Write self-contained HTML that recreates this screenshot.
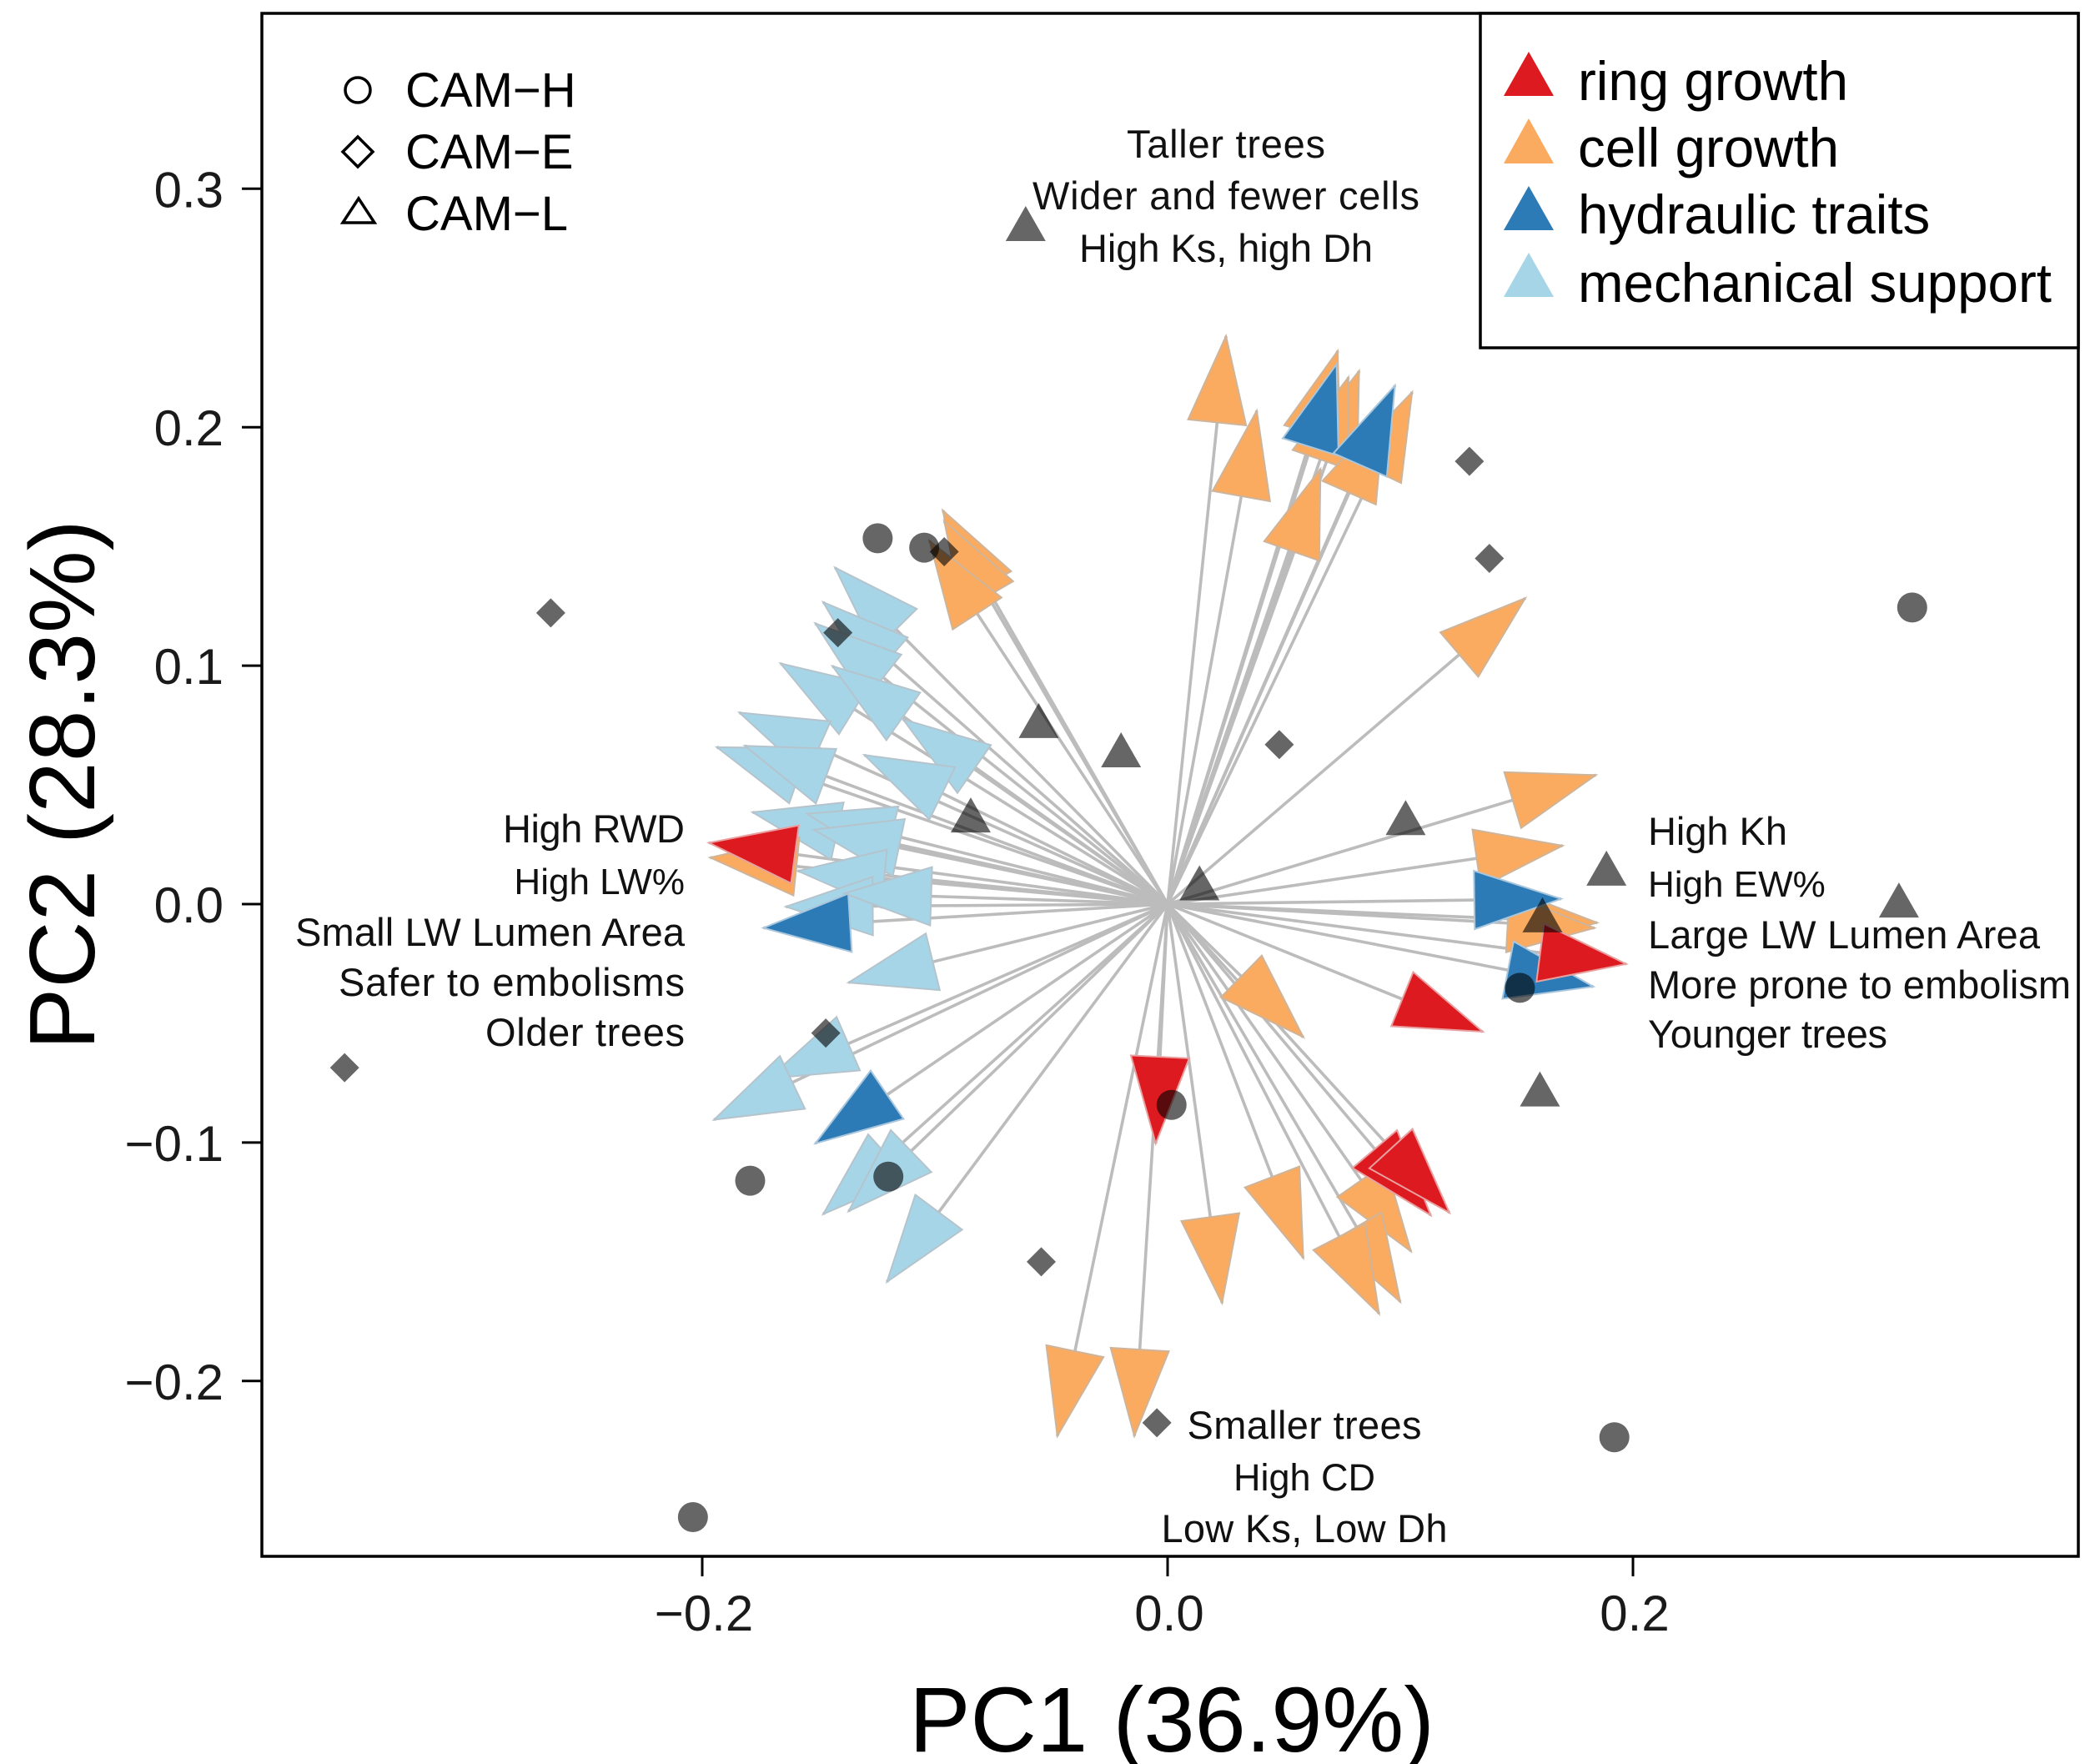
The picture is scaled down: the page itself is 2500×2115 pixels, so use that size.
<!DOCTYPE html>
<html lang="en">
<head>
<meta charset="utf-8">
<title>PCA biplot</title>
<style>
html,body{margin:0;padding:0;background:#fff;width:2500px;height:2115px;overflow:hidden}
svg{display:block}
text{font-family:"Liberation Sans",Arial,sans-serif;fill:#000}
.note{font-size:47px;fill:#111}
.tick{font-size:60px;fill:#1a1a1a}
</style>
</head>
<body>
<svg id="chart" width="2500" height="2115" viewBox="0 0 2500 2115" xmlns="http://www.w3.org/2000/svg">
  <rect x="0" y="0" width="2500" height="2115" fill="#ffffff"/>
  <g id="arrow-lines"></g>
  <g id="arrow-heads"></g>
  <g id="points"></g>

  <rect x="314" y="16" width="2178" height="1850" fill="none" stroke="#000" stroke-width="3.5"/>
  <g id="ticks"></g>

  <text x="1405" y="2100" text-anchor="middle" font-size="110">PC1 (36.9%)</text>
  <text transform="translate(113,941) rotate(-90)" text-anchor="middle" font-size="111">PC2 (28.3%)</text>

  <g>
    <circle cx="429" cy="108" r="15" fill="none" stroke="#000" stroke-width="3.5"/>
    <text x="486" y="128" font-size="58" fill="#222">CAM−H</text>
    <polygon points="429,164 447,182 429,200 411,182" fill="none" stroke="#000" stroke-width="3.5"/>
    <text x="486" y="202" font-size="58" fill="#222">CAM−E</text>
    <polygon points="430,238 449,267 411,267" fill="none" stroke="#000" stroke-width="3.5"/>
    <text x="486" y="276" font-size="58" fill="#222">CAM−L</text>
  </g>

  <g>
    <rect x="1775" y="16" width="717" height="401" fill="#fff" stroke="#000" stroke-width="3.5"/>
    <polygon points="1833,62 1863,115 1803,115" fill="#dc1a1f"/>
    <text x="1892" y="120" font-size="65.5">ring growth</text>
    <polygon points="1833,142 1863,196 1803,196" fill="#fbab60"/>
    <text x="1892" y="200" font-size="65.5">cell growth</text>
    <polygon points="1833,223 1863,276 1803,276" fill="#2c7bb6"/>
    <text x="1892" y="280" font-size="65.5">hydraulic traits</text>
    <polygon points="1833,303 1863,356 1803,356" fill="#a6d5e8"/>
    <text x="1892" y="362" font-size="65.5">mechanical support</text>
  </g>

  <g text-anchor="middle">
    <text class="note" x="1470" y="189" textLength="238">Taller trees</text>
    <text class="note" x="1470" y="251" textLength="464">Wider and fewer cells</text>
    <text class="note" x="1470" y="314" textLength="352">High Ks, high Dh</text>
  </g>
  <g text-anchor="end">
    <text class="note" x="821" y="1010" textLength="218">High RWD</text>
    <text class="note" x="821" y="1072" style="font-size:44px">High LW%</text>
    <text class="note" x="821" y="1134" textLength="467">Small LW Lumen Area</text>
    <text class="note" x="821" y="1194" textLength="415">Safer to embolisms</text>
    <text class="note" x="821" y="1254" textLength="239">Older trees</text>
  </g>
  <g>
    <text class="note" x="1976" y="1013" textLength="167">High Kh</text>
    <text class="note" x="1976" y="1075" style="font-size:44px">High EW%</text>
    <text class="note" x="1976" y="1137" textLength="470">Large LW Lumen Area</text>
    <text class="note" x="1976" y="1197" textLength="507">More prone to embolism</text>
    <text class="note" x="1976" y="1256" textLength="287">Younger trees</text>
  </g>
  <g text-anchor="middle">
    <text class="note" x="1564" y="1725" textLength="281">Smaller trees</text>
    <text class="note" x="1564" y="1787" style="font-size:45px">High CD</text>
    <text class="note" x="1564" y="1849" textLength="343">Low Ks, Low Dh</text>
  </g>
</svg>
<script>
// Axis ticks
const xTicks = [-0.2, 0.0, 0.2];
const yTicks = [-0.2, -0.1, 0.0, 0.1, 0.2, 0.3];

// Trait loadings (PC1, PC2)
const mechanicalX = [-0.1429,-0.1480,-0.1514,-0.1663,-0.1440,-0.1840,-0.1937,-0.1817,-0.1137,-0.1303,-0.1783,-0.1549,-0.1520,-0.1589,-0.1640,-0.1389,-0.1371,-0.1714,-0.1949,-0.1480,-0.1371,-0.1206];
const mechanicalY = [0.1411,0.1266,0.1177,0.1009,0.0998,0.0803,0.0658,0.0664,0.0775,0.0625,0.0385,0.0379,0.0312,0.0139,-0.0011,0.0045,-0.0329,-0.0731,-0.0904,-0.1300,-0.1288,-0.1584];
const cellX = [0.0251,0.0383,0.0731,0.0823,0.0777,0.1051,0.0931,0.0657,0.1537,0.1840,0.1697,0.1846,0.1834,0.0583,0.0234,0.0583,0.1046,0.1000,0.0909,-0.0474,-0.0143,-0.0966,-0.0960,-0.1023,-0.1966];
const cellY = [0.2382,0.2069,0.2320,0.2236,0.2209,0.2147,0.2058,0.1824,0.1283,0.0541,0.0245,-0.0078,-0.0100,-0.0558,-0.1673,-0.1484,-0.1456,-0.1668,-0.1718,-0.2231,-0.2231,0.1651,0.1606,0.1523,0.0195];
const hydraulicX = [0.0726,0.0977,0.1829,0.1691,-0.1737,-0.1514];
const hydraulicY = [0.2264,0.2175,-0.0346,0.0022,-0.0100,-0.1004];
const ringX = [0.1971,0.1354,-0.1971,-0.0051,0.1131,0.1211];
const ringY = [-0.0251,-0.0535,0.0257,-0.1004,-0.1305,-0.1294];

// Sample scores (PC1, PC2)
const camHX = [-0.1246,-0.1046,0.3200,0.1514,0.0017,-0.1794,-0.1200,0.1920,-0.2040];
const camHY = [0.1534,0.1495,0.1244,-0.0351,-0.0842,-0.1160,-0.1143,-0.2236,-0.2571];
const camEX = [-0.2651,-0.0960,-0.1417,0.1297,0.1383,0.0480,-0.3537,-0.1469,-0.0543,-0.0046];
const camEY = [0.1221,0.1478,0.1138,0.1857,0.1450,0.0669,-0.0686,-0.0541,-0.1500,-0.2175];
const camLX = [-0.0610,-0.0554,-0.0200,-0.0846,0.0137,0.1023,0.1886,0.3143,0.1611,0.1600];
const camLY = [0.2854,0.0770,0.0647,0.0374,0.0089,0.0363,0.0151,0.0017,-0.0045,-0.0775];

const NS = 'http://www.w3.org/2000/svg';
function xScale(v){ return 1400 + v * 2790; }
function yScale(v){ return 1084 - v * 2859; }
function make(tag, parent, attrs){
  const el = document.createElementNS(NS, tag);
  for (const k in attrs) el.setAttribute(k, attrs[k]);
  parent.appendChild(el);
  return el;
}

const tickLayer = document.getElementById('ticks');
xTicks.forEach(function(t){
  const line = make('line', tickLayer, {x1:xScale(t), x2:xScale(t), y1:1866, y2:1890, stroke:'#000', 'stroke-width':3});
  
  
  const label = make('text', tickLayer, {x:xScale(t)+2, y:1955, 'text-anchor':'middle', class:'tick'});
  label.textContent = t.toFixed(1).replace('-', '−');
  
  
});
yTicks.forEach(function(t){
  const line = make('line', tickLayer, {x1:290, x2:314, y1:yScale(t), y2:yScale(t), stroke:'#000', 'stroke-width':3});
  
  
  const label = make('text', tickLayer, {x:268, y:yScale(t)+22, 'text-anchor':'end', class:'tick'});
  label.textContent = t.toFixed(1).replace('-', '−');
  
  
});

const lineLayer = document.getElementById('arrow-lines');
const headLayer = document.getElementById('arrow-heads');
const HEAD_LENGTH = 104, HEAD_WIDTH = 70;

function drawLines(xs, ys){
  xs.forEach(function(x, i){
    const line = make('line', lineLayer, {x1:xScale(0), y1:yScale(0), x2:xScale(x), y2:yScale(ys[i]), stroke:'#bcbcbc', 'stroke-width':3.6});
    
    
  });
}
function drawHeads(xs, ys, fill, stroke, name){
  xs.forEach(function(x, i){
    const tx = xScale(x), ty = yScale(ys[i]);
    const dx = tx - xScale(0), dy = ty - yScale(0);
    const n = Math.sqrt(dx*dx + dy*dy);
    const ux = dx/n, uy = dy/n;
    const bx = tx - ux*HEAD_LENGTH, by = ty - uy*HEAD_LENGTH;
    const px = -uy*HEAD_WIDTH/2, py = ux*HEAD_WIDTH/2;
    const pts = [tx,ty, bx+px,by+py, bx-px,by-py].map(function(v){return v.toFixed(1);}).join(' ');
    const head = make('polygon', headLayer, {points:pts, fill:fill, stroke:stroke, 'stroke-width':2, 'stroke-linejoin':'miter'});
    
    
  });
}
drawLines(mechanicalX, mechanicalY);
drawLines(cellX, cellY);
drawLines(hydraulicX, hydraulicY);
drawLines(ringX, ringY);
drawHeads(mechanicalX, mechanicalY, '#a6d5e8', '#b5c4cc', 'mechanical-support-arrowhead');
drawHeads(cellX, cellY, '#fbab60', '#cdb49a', 'cell-growth-arrowhead');
drawHeads(hydraulicX, hydraulicY, '#2c7bb6', '#a9c6dc', 'hydraulic-traits-arrowhead');
drawHeads(ringX, ringY, '#dc1a1f', '#e8a0a0', 'ring-growth-arrowhead');

const pointLayer = document.getElementById('points');
const POINT_FILL = 'rgba(0,0,0,0.6)';
camHX.forEach(function(x, i){
  const c = make('circle', pointLayer, {cx:xScale(x), cy:yScale(camHY[i]), r:18, fill:POINT_FILL});
  
  
});
camEX.forEach(function(x, i){
  const cx = xScale(x), cy = yScale(camEY[i]), h = 17.5;
  const d = make('polygon', pointLayer, {points:[cx,cy-h,cx+h,cy,cx,cy+h,cx-h,cy].join(' '), fill:POINT_FILL});
  
  
});
camLX.forEach(function(x, i){
  const cx = xScale(x), cy = yScale(camLY[i]);
  const t = make('polygon', pointLayer, {points:[cx,cy-21,cx+24,cy+21,cx-24,cy+21].join(' '), fill:POINT_FILL});
  
  
});
</script>
</body>
</html>
